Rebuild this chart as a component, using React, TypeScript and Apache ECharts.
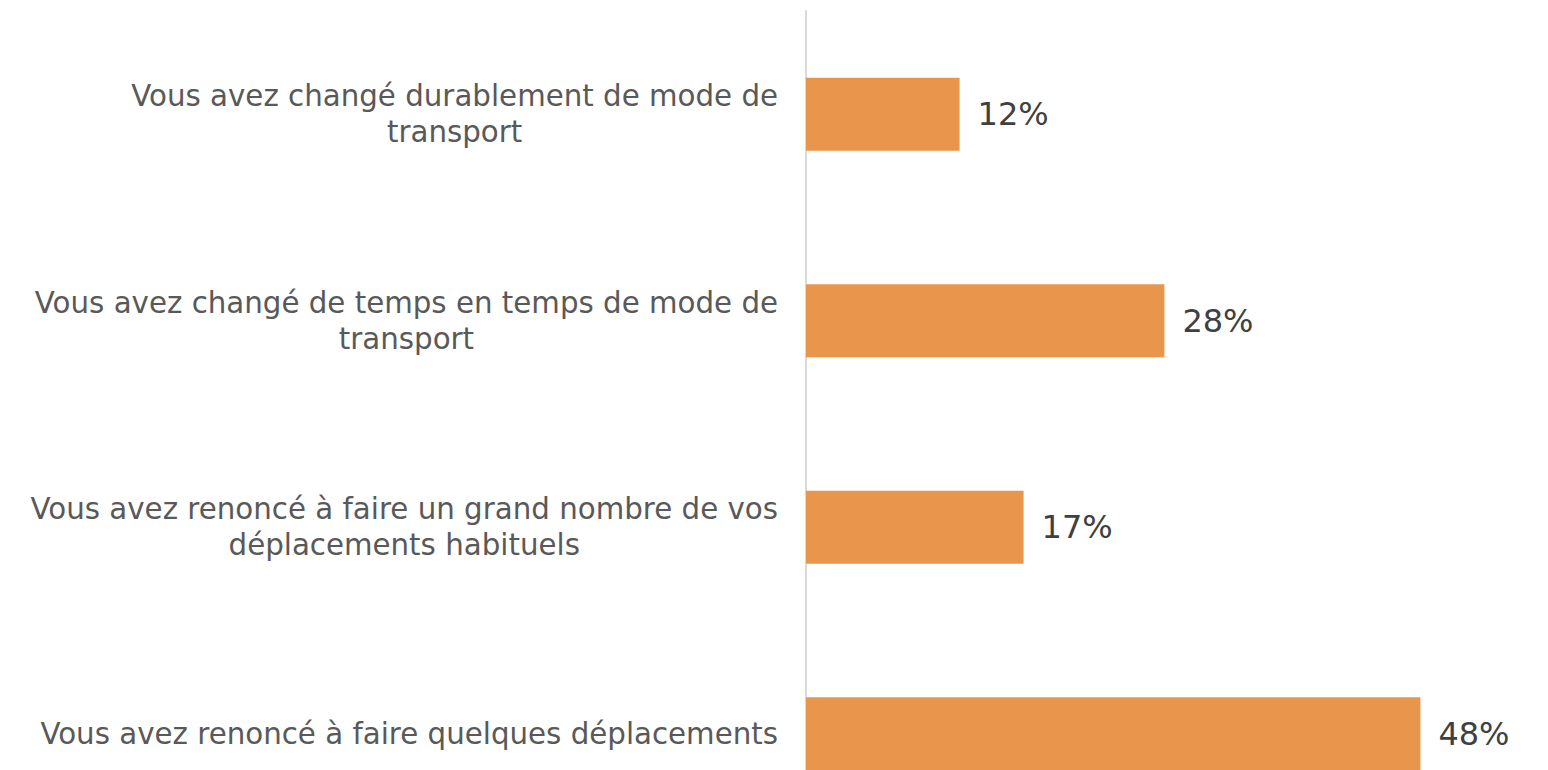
import React, { useEffect, useRef } from "react";
import * as echarts from "echarts";

const categories: string[] = [
  "Vous avez changé durablement de mode de\ntransport",
  "Vous avez changé de temps en temps de mode de\ntransport",
  "Vous avez renoncé à faire un grand nombre de vos\ndéplacements habituels",
  "Vous avez renoncé à faire quelques déplacements",
];
const values: number[] = [12, 28, 17, 48];

export default function App() {
  const ref = useRef<HTMLDivElement>(null);
  useEffect(() => {
    if (!ref.current) return;
    const chart = echarts.init(ref.current, undefined, { renderer: "svg" });
    chart.setOption({
      animation: false,
      backgroundColor: "#ffffff",
      grid: { left: 806, top: 11, width: 704, height: 826 },
      xAxis: {
        type: "value",
        min: 0,
        max: 55,
        show: false,
        splitLine: { show: false },
      },
      yAxis: {
        type: "category",
        data: categories,
        inverse: true,
        axisTick: { show: false },
        axisLine: { show: true, lineStyle: { color: "#D9D9D9", width: 2 } },
        axisLabel: {
          margin: 28,
          formatter: (v: string) =>
            v.split("\n").map((l) => `{c|${l}}`).join("\n"),
          rich: {
            c: {
              align: "center",
              fontFamily: "DejaVu Sans",
              fontSize: 29.3,
              lineHeight: 36,
              color: "#595959",
            },
          },
        },
      },
      series: [
        {
          type: "bar",
          data: values,
          barWidth: 73,
          itemStyle: { color: "#E9954C" },
          label: {
            show: true,
            position: "right",
            distance: 18,
            formatter: "{c}%",
            fontFamily: "DejaVu Sans",
            fontSize: 32,
            color: "#404040",
          },
        },
      ],
    });
    return () => chart.dispose();
  }, []);
  return (
    <div
      style={{
        position: "absolute",
        left: 0,
        top: 0,
        width: 1548,
        height: 770,
        overflow: "hidden",
        background: "#ffffff",
      }}
    >
      <div ref={ref} style={{ width: 1548, height: 850 }} />
    </div>
  );
}
